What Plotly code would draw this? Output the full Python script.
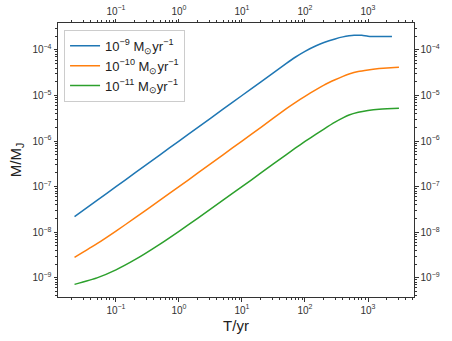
import plotly.graph_objects as go

# ---------------------------------------
# Data
# ---------------------------------------

T_blue = [0.022, 0.05, 0.1, 0.2, 0.5, 1, 2, 5, 10, 20, 50, 70, 100, 150, 200, 300, 400, 500, 600, 800,
          1000, 1500, 2400]
M_blue = [2.2e-8, 5e-8, 1e-7, 2e-7, 5e-7, 1e-6, 2e-6, 5e-6, 1e-5, 2e-5, 5e-5, 6.9e-5, 9.3e-5, 1.23e-4,
          1.45e-4, 1.74e-4, 1.93e-4, 2.04e-4, 2.1e-4, 2.09e-4, 2.0e-4, 1.96e-4, 1.96e-4]

T_other = [0.022, 0.05, 0.1, 0.2, 0.5, 1, 2, 5, 10, 20, 50, 70, 100, 150, 200, 300, 400, 500, 700, 1000,
           1500, 2000, 3100]
M_orange = [2.8e-9, 5.6e-9, 1.06e-8, 2.06e-8, 5.06e-8, 1.0e-7, 2e-7, 5e-7, 1e-6, 2e-6, 5.1e-6, 7.0e-6,
            9.6e-6, 1.35e-5, 1.69e-5, 2.21e-5, 2.63e-5, 2.95e-5, 3.35e-5, 3.63e-5, 3.89e-5, 4.03e-5, 4.17e-5]
M_green = [7.2e-10, 1.0e-9, 1.5e-9, 2.5e-9, 5.5e-9, 1.05e-8, 2.05e-8, 5.05e-8, 1.0e-7, 2e-7, 5e-7, 7e-7,
           9.8e-7, 1.42e-6, 1.84e-6, 2.6e-6, 3.22e-6, 3.72e-6, 4.27e-6, 4.68e-6, 5.0e-6, 5.13e-6, 5.25e-6]

labels = [
    "10<sup>−9</sup> M<sub>⊙</sub>yr<sup>−1</sup>",
    "10<sup>−10</sup> M<sub>⊙</sub>yr<sup>−1</sup>",
    "10<sup>−11</sup> M<sub>⊙</sub>yr<sup>−1</sup>",
]
colors = ["#1f77b4", "#ff7f0e", "#2ca02c"]

x_ticks = [0.1, 1, 10, 100, 1000]
x_ticktext = ["10<sup>−1</sup>", "10<sup>0</sup>", "10<sup>1</sup>", "10<sup>2</sup>", "10<sup>3</sup>"]
y_ticks = [1e-9, 1e-8, 1e-7, 1e-6, 1e-5, 1e-4]
y_ticktext = ["10<sup>−9</sup>", "10<sup>−8</sup>", "10<sup>−7</sup>", "10<sup>−6</sup>",
              "10<sup>−5</sup>", "10<sup>−4</sup>"]

x_range = [-1.92, 3.73]
y_range = [-9.42, -3.41]

fig = go.Figure()

for x, y, name, c in zip([T_blue, T_other, T_other], [M_blue, M_orange, M_green], labels, colors):
    fig.add_trace(go.Scatter(x=x, y=y, mode="lines", name=name,
                             line=dict(color=c, width=1.5, shape="spline", smoothing=0.5)))

# invisible trace so the top/right axes get drawn
fig.add_trace(go.Scatter(x=T_blue, y=M_blue, xaxis="x2", yaxis="y2", mode="lines",
                         line=dict(width=0), opacity=0, showlegend=False, hoverinfo="skip"))

axis_common = dict(
    type="log",
    automargin=False,
    showgrid=False,
    zeroline=False,
    showline=True,
    linecolor="#333",
    linewidth=1,
    ticks="outside",
    ticklen=3.5,
    tickcolor="#333",
    tickfont=dict(size=10, color="#333"),
    minor=dict(ticks="outside", ticklen=2, tickcolor="#333", dtick="D1", showgrid=False),
)
x_axis = dict(axis_common, range=x_range, tickvals=x_ticks, ticktext=x_ticktext)
y_axis = dict(axis_common, range=y_range, tickvals=y_ticks, ticktext=y_ticktext)

fig.update_layout(
    width=452,
    height=341,
    margin=dict(l=58, r=38, t=23, b=44),
    plot_bgcolor="white",
    paper_bgcolor="white",
    font=dict(family="Liberation Sans, Arial, sans-serif", color="#222"),
    xaxis=dict(x_axis, title=dict(text="T/yr", font=dict(size=15), standoff=5)),
    yaxis=dict(y_axis, title=dict(text="M/M<sub>J</sub>", font=dict(size=15), standoff=7)),
    xaxis2=dict(x_axis, overlaying="x", side="top"),
    yaxis2=dict(y_axis, overlaying="y", side="right"),
    legend=dict(
        x=0.017, y=0.975, xanchor="left", yanchor="top",
        bgcolor="rgba(255,255,255,0.8)",
        bordercolor="#ccc", borderwidth=1,
        font=dict(size=13, color="#222"),
        tracegroupgap=0,
    ),
    showlegend=True,
)

# drop the page's default body margin so the figure sits at the window corner
fig.write_html("out.html", config={"displayModeBar": False},
               post_script="document.body.style.margin = '0';")
